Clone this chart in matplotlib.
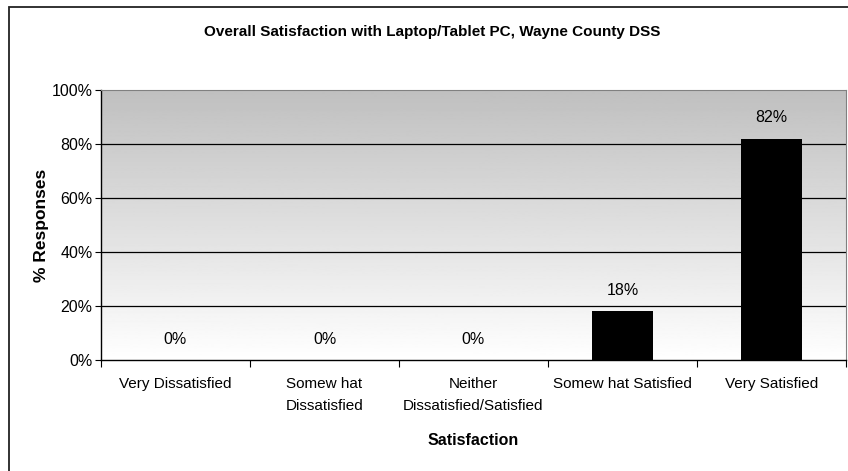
import matplotlib.pyplot as plt
import numpy as np
from matplotlib.patches import Rectangle

# chart data
categories = ['Very Dissatisfied', 'Somew hat\nDissatisfied', 'Neither\nDissatisfied/Satisfied',
              'Somew hat Satisfied', 'Very Satisfied']
values = [0, 0, 0, 18, 82]
y_ticks = [0, 20, 40, 60, 80, 100]

plt.rcParams['font.family'] = ['Liberation Sans Narrow', 'Liberation Sans', 'DejaVu Sans']

fig = plt.figure(figsize=(8.48, 4.71), dpi=100)
ax = fig.add_axes([101 / 848, 1 - 360 / 471, 745 / 848, 270 / 471])

# gradient background, grey at top fading to white
grad = np.linspace(1.0, 0.75, 256).reshape(-1, 1)
ax.imshow(grad, cmap='gray', vmin=0, vmax=1, aspect='auto', origin='lower',
          extent=[-0.5, 4.5, 0, 100], zorder=0)

x = np.arange(len(categories))
ax.bar(x, values, width=0.41, color='black', zorder=3)

# horizontal grid lines
for t in y_ticks[1:-1]:
    ax.axhline(t, color='black', linewidth=0.9, zorder=1)

# value labels
for xi, v in zip(x, values):
    ax.annotate('%d%%' % v, (xi, v), xytext=(0, 15), textcoords='offset points',
                ha='center', va='center', fontsize=11.5)

ax.set_xlim(-0.5, 4.5)
ax.set_ylim(0, 100)
ax.set_yticks(y_ticks)
ax.set_yticklabels(['%d%%' % t for t in y_ticks], fontsize=11.5)
ax.tick_params(axis='y', direction='out', length=4, width=0.8, pad=2)

# category ticks sit between the bars
ax.set_xticks(np.arange(-0.5, 5, 1))
ax.set_xticklabels([])
ax.set_xticks(x, minor=True)
ax.set_xticklabels(categories, minor=True, fontsize=11, linespacing=1.8, va='top')
ax.tick_params(axis='x', which='major', direction='out', length=5, width=0.8)
ax.tick_params(axis='x', which='minor', length=0, pad=12)

for s in ['top', 'right']:
    ax.spines[s].set_color('#808080')
for s in ['left', 'bottom']:
    ax.spines[s].set_color('black')
    ax.spines[s].set_linewidth(1.0)

ax.set_xlabel('Satisfaction', fontsize=11.5, fontweight='bold', labelpad=14)
ax.set_ylabel('% Responses', fontsize=12.5, fontweight='bold', labelpad=2)

fig.text(432 / 848, 1 - 32 / 471, 'Overall Satisfaction with Laptop/Tablet PC, Wayne County DSS',
         ha='center', va='center', fontsize=11, fontweight='bold')

# outer chart frame
fig.patches.append(Rectangle((9 / 848, -0.1), 1.2, 1 - 7 / 471 + 0.1, transform=fig.transFigure,
                             fill=False, edgecolor='#222222', linewidth=1.3))

fig.savefig('out.png', dpi=100)
